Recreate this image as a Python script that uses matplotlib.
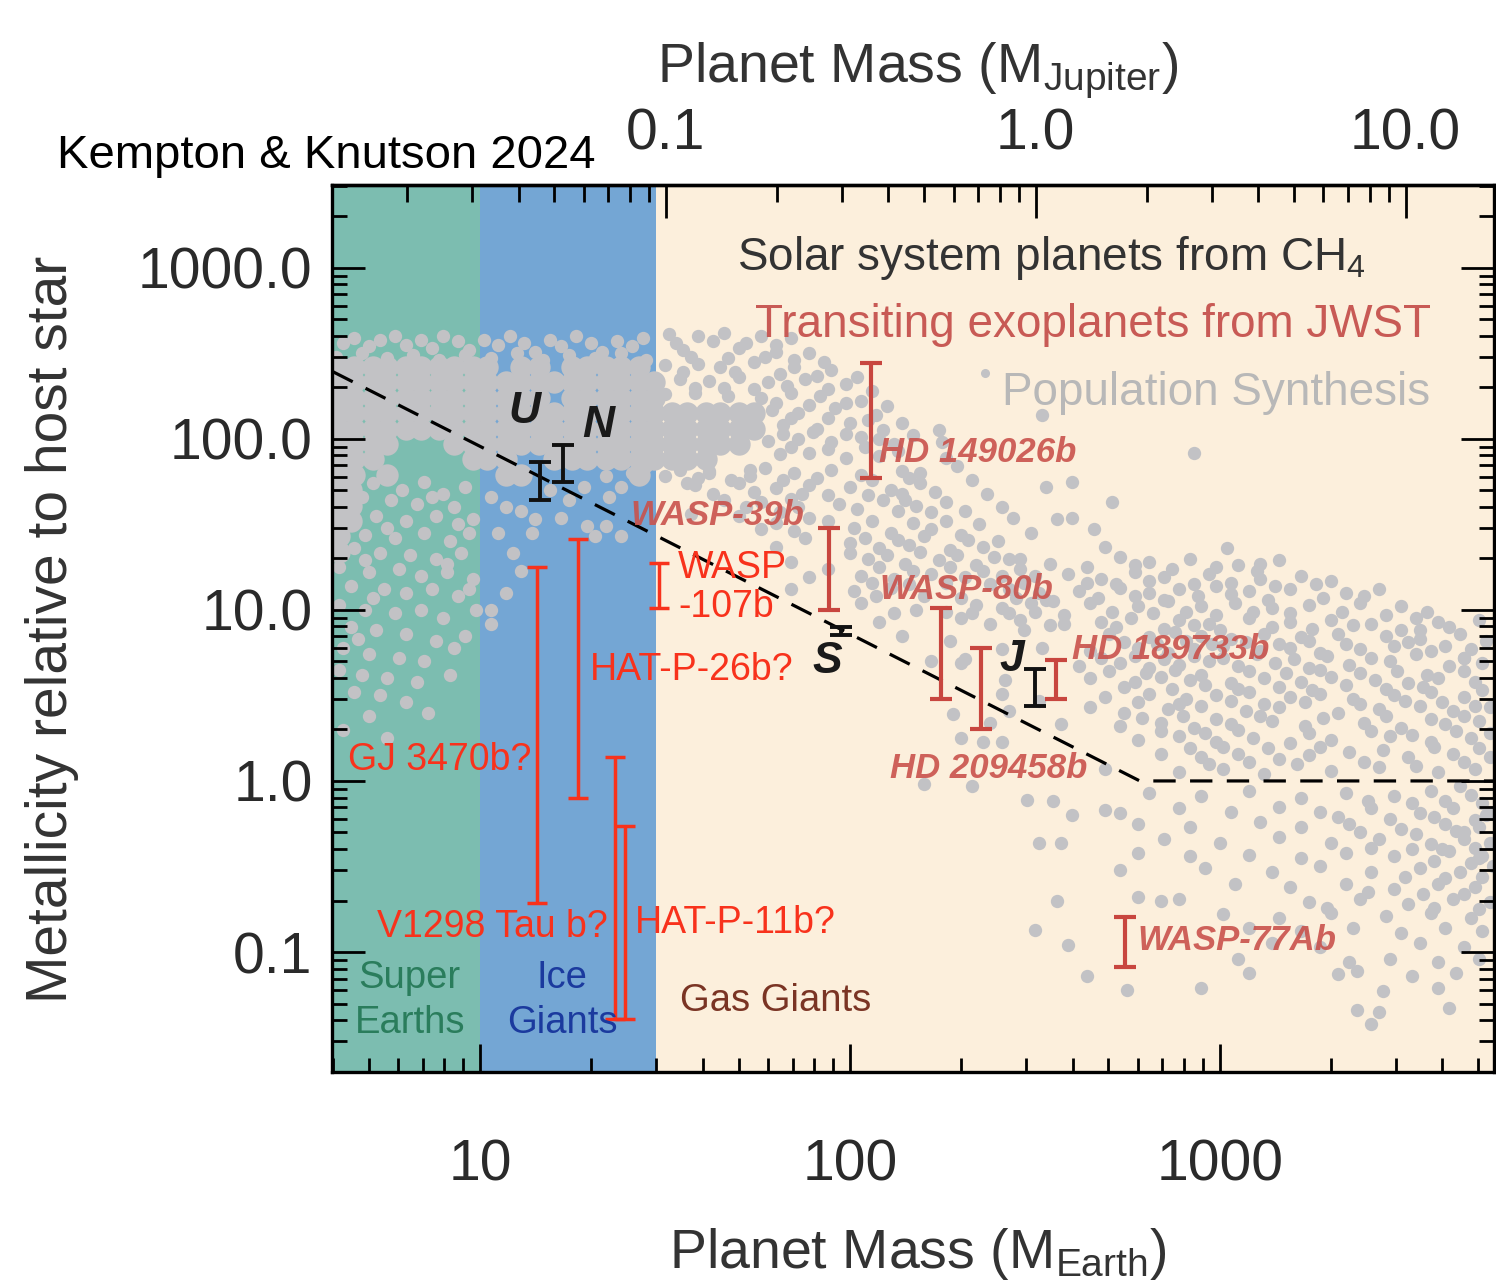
import numpy as np
import matplotlib.pyplot as plt
from matplotlib import font_manager
from matplotlib.ticker import LogLocator, NullFormatter

plt.rcParams['font.family'] = ['Liberation Sans', 'DejaVu Sans']
plt.rcParams['mathtext.default'] = 'regular'

JUPITER_IN_EARTH = 317.8

# composition regimes (Earth masses)
regime_edges = [1.0, 10.0, 30.0, 1e5]
regime_colors = ['#7cbdb0', '#74a6d4', '#fcefdc']

# metallicity trend line
trend_mass = [4.0, 608.0, 5600.0]
trend_met = [247.0, 1.0, 1.0]

# solar system planets from CH4
solar_labels = ['U', 'N', 'S', 'J']
solar_mass = [14.5, 16.8, 94.6, 316.0]
solar_lo = [44.0, 56.0, 7.1, 2.75]
solar_hi = [73.0, 92.0, 7.9, 4.5]

# transiting exoplanets from JWST
jwst_names = ['HD 149026b', 'WASP-39b', 'WASP-80b', 'HD 209458b', 'HD 189733b', 'WASP-77Ab']
jwst_mass = [114.0, 87.7, 176.0, 226.0, 360.0, 553.0]
jwst_lo = [59.0, 10.0, 3.0, 2.0, 3.0, 0.082]
jwst_hi = [278.0, 30.2, 10.3, 6.0, 5.1, 0.160]

# tentative / low-mass JWST results
tent_names = ['GJ 3470b?', 'HAT-P-26b?', 'V1298 Tau b?', 'HAT-P-11b?', 'WASP\n-107b']
tent_mass = [14.3, 18.4, 23.2, 24.7, 30.5]
tent_lo = [0.194, 0.795, 0.0405, 0.0405, 10.3]
tent_hi = [17.8, 26.0, 1.38, 0.546, 18.8]

# population synthesis, read off as (log10 mass, log10 metallicity)
# densely packed core, drawn with medium dots
pop_core_rows = [
    (2.42, [0.62, 0.66, 0.71, 0.75, 0.80, 0.84, 0.89, 0.93, 0.98, 1.02, 1.11, 1.16, 1.25, 1.29,
            1.34, 1.38, 1.43]),
    (2.33, [0.62, 0.66, 0.71, 0.75, 0.80, 0.84, 0.89, 0.93, 0.98, 1.02, 1.07, 1.11, 1.16, 1.20,
            1.25, 1.29, 1.34, 1.38, 1.43, 1.47]),
    (2.24, [0.62, 0.66, 0.71, 0.75, 0.80, 0.84, 0.89, 0.93, 0.98, 1.02, 1.07, 1.11, 1.16, 1.25,
            1.29, 1.34, 1.38, 1.43, 1.47]),
    (2.15, [0.62, 0.66, 0.71, 0.75, 0.80, 0.84, 0.89, 0.93, 0.98, 1.02, 1.07, 1.11, 1.16, 1.20,
            1.25, 1.29, 1.34, 1.38, 1.43, 1.47, 1.52, 1.56, 1.61, 1.65, 1.70, 1.74]),
    (2.06, [0.62, 0.66, 0.71, 0.75, 0.80, 0.84, 0.89, 0.93, 0.98, 1.02, 1.07, 1.11, 1.16, 1.20,
            1.25, 1.29, 1.34, 1.38, 1.43, 1.47, 1.52, 1.56, 1.61, 1.65, 1.70, 1.74]),
    (1.97, [0.62, 0.66, 0.71, 0.75, 0.93, 0.98, 1.02, 1.07, 1.11, 1.16, 1.20, 1.25, 1.29, 1.34,
            1.38, 1.43, 1.47, 1.52, 1.56, 1.61, 1.65, 1.70]),
    (1.88, [0.62, 0.66, 0.71, 0.98, 1.02, 1.07, 1.20, 1.25, 1.29, 1.34, 1.38, 1.43, 1.47, 1.52,
            1.56, 1.61]),
    (1.79, [0.62, 0.66, 0.75, 1.07, 1.11, 1.43]),
    (1.70, [0.62, 0.65]),
    (1.61, [0.62, 0.65]),
    (1.52, [0.62, 0.65]),
    (1.43, [0.62]),
    (1.34, [0.62]),
]

pop_top = [(0.63, 2.56), (0.66, 2.59), (0.70, 2.54), (0.73, 2.58), (0.77, 2.60), (0.80, 2.55),
           (0.84, 2.58), (0.87, 2.53), (0.90, 2.60), (0.94, 2.57), (0.97, 2.52), (1.01, 2.58),
           (1.05, 2.55), (1.08, 2.60), (1.12, 2.56), (1.15, 2.51), (1.19, 2.58), (1.22, 2.54),
           (1.26, 2.60), (1.30, 2.56), (1.33, 2.51), (1.37, 2.57), (1.41, 2.54), (1.44, 2.59),
           (0.61, 2.48), (0.68, 2.50), (0.75, 2.47), (0.82, 2.49), (0.89, 2.46), (0.96, 2.49),
           (1.03, 2.47), (1.10, 2.50), (1.17, 2.46), (1.24, 2.49), (1.31, 2.47), (1.38, 2.50),
           (1.45, 2.46)]

pop_superearth = [(0.64, 1.70), (0.71, 1.74), (0.79, 1.70), (0.85, 1.75), (0.90, 1.68), (0.96, 1.72),
                  (0.76, 1.64), (0.83, 1.62), (0.93, 1.60), (0.66, 1.60), (0.72, 1.55), (0.80, 1.52),
                  (0.88, 1.55), (0.98, 1.53), (0.63, 1.48), (0.69, 1.44), (0.77, 1.42), (0.85, 1.45),
                  (0.92, 1.40), (0.97, 1.45), (0.66, 1.36), (0.73, 1.33), (0.81, 1.32), (0.88, 1.30),
                  (0.95, 1.33), (0.62, 1.25), (0.70, 1.22), (0.78, 1.24), (0.84, 1.20), (0.91, 1.22),
                  (0.98, 1.18), (0.65, 1.14), (0.74, 1.12), (0.80, 1.10), (0.87, 1.12), (0.94, 1.08),
                  (0.62, 1.03), (0.69, 1.00), (0.77, 0.98), (0.84, 1.00), (0.90, 0.95), (0.99, 1.00),
                  (0.65, 0.90), (0.72, 0.88), (0.80, 0.86), (0.88, 0.82), (0.96, 0.85), (0.63, 0.78),
                  (0.70, 0.74), (0.78, 0.72), (0.85, 0.70), (0.62, 0.65), (0.68, 0.62), (0.75, 0.60),
                  (0.83, 0.58), (0.92, 0.62), (0.66, 0.52), (0.73, 0.50), (0.80, 0.46), (0.70, 0.38),
                  (0.86, 0.40), (0.63, 0.30), (0.75, 0.25), (0.68, 1.66), (0.87, 1.66), (0.75, 1.48),
                  (0.94, 1.50), (0.69, 1.29), (0.91, 1.27), (0.71, 1.07), (0.97, 1.12), (0.67, 0.83),
                  (0.93, 0.78)]

pop_icegiant = [(1.03, 1.66), (1.07, 1.60), (1.11, 1.58), (1.15, 1.53), (1.22, 1.54), (1.14, 1.45),
                (1.29, 1.49), (1.34, 1.49), (1.38, 1.43), (1.31, 1.43), (1.09, 1.33), (1.11, 1.23),
                (1.05, 1.45), (1.07, 1.10), (1.03, 1.00), (1.03, 0.92), (1.34, 1.78), (1.38, 1.72),
                (1.41, 1.80), (1.45, 1.84), (1.28, 1.72), (1.35, 1.66), (1.50, 1.78), (1.56, 1.74),
                (1.62, 1.80), (1.68, 1.76), (1.73, 1.82), (1.19, 1.70), (1.24, 1.64)]

pop_giant_upper = [(1.51, 2.61), (1.59, 2.60), (1.66, 2.62), (1.76, 2.60), (1.84, 2.59),
                   (1.55, 2.52), (1.70, 2.53), (1.80, 2.51), (1.89, 2.50),
                   (1.50, 2.43), (1.59, 2.44), (1.65, 2.42), (1.74, 2.45), (1.85, 2.42), (1.95, 2.40),
                   (1.54, 2.35), (1.62, 2.34), (1.70, 2.36), (1.78, 2.33), (1.88, 2.35), (1.99, 2.32),
                   (1.50, 2.26), (1.58, 2.27), (1.67, 2.25), (1.76, 2.24), (1.84, 2.27), (1.92, 2.25),
                   (2.03, 2.22), (1.79, 2.17), (1.86, 2.15), (1.96, 2.18), (2.07, 2.14),
                   (1.82, 2.08), (1.91, 2.06), (2.00, 2.09), (2.09, 2.05),
                   (1.78, 1.99), (1.86, 2.00), (1.95, 1.98), (2.03, 2.01), (2.12, 1.97),
                   (1.81, 1.91), (1.89, 1.92), (1.99, 1.89), (2.08, 1.90),
                   (1.54, 1.82), (1.62, 1.81), (1.77, 1.83), (1.85, 1.80), (1.95, 1.82), (2.03, 1.79),
                   (2.14, 1.81), (1.58, 1.73), (1.70, 1.74), (1.80, 1.71), (1.89, 1.73), (2.00, 1.72),
                   (2.11, 1.70), (2.19, 1.74), (1.66, 1.64), (1.76, 1.63), (1.84, 1.65), (1.97, 1.62),
                   (2.09, 1.64), (2.18, 1.61), (2.26, 1.63), (1.57, 1.56), (1.70, 1.55), (1.81, 1.57),
                   (1.89, 1.54), (1.76, 1.47), (1.85, 1.46), (2.01, 1.48), (2.11, 1.45), (2.22, 1.47),
                   (2.30, 1.44), (1.80, 1.37), (2.00, 1.39), (2.08, 1.36), (2.16, 1.38), (2.27, 1.35),
                   (2.36, 1.37), (1.84, 1.28), (2.05, 1.30), (2.15, 1.27), (2.24, 1.29), (2.34, 1.26),
                   (1.89, 1.19), (2.03, 1.20), (2.12, 1.18), (2.22, 1.21), (2.31, 1.19), (2.41, 1.20),
                   (1.84, 1.12), (2.01, 1.11), (2.11, 1.13), (2.43, 1.12), (2.51, 1.10),
                   (2.03, 1.04), (2.34, 1.03), (2.41, 1.01), (2.49, 1.04),
                   (2.08, 0.93), (2.30, 0.95), (2.38, 0.92), (2.46, 0.94), (2.54, 0.91),
                   (1.53, 2.56), (1.63, 2.57), (1.72, 2.56), (1.80, 2.55),
                   (1.57, 2.48), (1.67, 2.47), (1.77, 2.48), (1.85, 2.46), (1.93, 2.45),
                   (1.55, 2.39), (1.69, 2.39), (1.81, 2.38), (1.91, 2.37), (2.02, 2.36),
                   (1.58, 2.30), (1.66, 2.30), (1.74, 2.29), (1.83, 2.31), (1.94, 2.29), (2.06, 2.28),
                   (1.80, 2.21), (1.89, 2.20), (1.99, 2.21), (2.10, 2.19),
                   (1.84, 2.12), (1.94, 2.12), (2.05, 2.11), (2.14, 2.09),
                   (1.82, 2.03), (1.90, 2.04), (1.99, 2.03), (2.08, 2.00), (2.17, 2.02),
                   (1.84, 1.95), (1.94, 1.94), (2.04, 1.95), (2.13, 1.93),
                   (1.59, 1.77), (1.73, 1.78), (1.82, 1.76), (1.91, 1.77), (2.06, 1.76), (2.16, 1.77),
                   (1.63, 1.68), (1.74, 1.69), (1.87, 1.68), (1.94, 1.67), (2.05, 1.67), (2.14, 1.68),
                   (2.23, 1.69), (1.72, 1.60), (1.86, 1.60), (2.02, 1.59), (2.13, 1.58), (2.22, 1.57),
                   (2.31, 1.58), (1.80, 1.51), (1.94, 1.52), (2.06, 1.52), (2.17, 1.51), (2.26, 1.52),
                   (2.35, 1.50), (1.88, 1.42), (2.04, 1.42), (2.13, 1.41), (2.20, 1.43), (2.32, 1.41),
                   (2.40, 1.40), (2.00, 1.33), (2.10, 1.32), (2.19, 1.34), (2.29, 1.32), (2.39, 1.31),
                   (1.94, 1.24), (2.08, 1.25), (2.17, 1.23), (2.27, 1.25), (2.36, 1.23), (2.46, 1.24),
                   (2.06, 1.16), (2.16, 1.15), (2.26, 1.16), (2.38, 1.15), (2.47, 1.16),
                   (2.07, 1.08), (2.20, 1.08), (2.30, 1.07), (2.45, 1.07), (2.53, 1.06),
                   (2.12, 0.98), (2.26, 0.99), (2.43, 0.98), (2.50, 0.99), (2.58, 0.97)]

pop_giant_mid = [(2.43, 1.30), (2.54, 1.27), (2.73, 1.31), (2.81, 1.28), (2.92, 1.30), (3.05, 1.26),
                 (3.16, 1.29), (2.59, 1.21), (2.68, 1.18), (2.77, 1.22), (2.85, 1.19), (2.97, 1.21),
                 (3.11, 1.18), (3.22, 1.20), (3.30, 1.17), (2.62, 1.11), (2.73, 1.13), (2.81, 1.10),
                 (2.89, 1.12), (2.99, 1.14), (3.08, 1.11), (3.19, 1.12), (3.34, 1.10), (3.43, 1.12),
                 (2.65, 1.04), (2.78, 1.02), (2.86, 1.05), (2.95, 1.02), (3.04, 1.04), (3.14, 1.01),
                 (3.24, 1.03), (3.38, 1.04), (3.49, 1.02), (2.68, 0.93), (2.76, 0.95), (2.89, 0.94),
                 (2.97, 0.92), (3.08, 0.95), (3.19, 0.93), (3.30, 0.94), (3.41, 0.92), (3.53, 0.95),
                 (3.59, 0.93), (3.70, 0.94), (2.70, 0.86), (2.81, 0.84), (2.88, 0.87), (2.95, 0.85),
                 (3.03, 0.83), (3.12, 0.86), (3.22, 0.84), (3.32, 0.86), (3.45, 0.85), (3.54, 0.83),
                 (3.65, 0.86), (2.41, 0.77), (2.65, 0.76), (2.78, 0.78), (2.86, 0.75), (2.93, 0.77),
                 (3.01, 0.79), (3.11, 0.76), (3.19, 0.78), (3.27, 0.75), (3.38, 0.77), (3.47, 0.79),
                 (3.57, 0.76), (3.68, 0.77), (2.30, 0.69), (2.62, 0.67), (2.73, 0.69), (2.81, 0.66),
                 (2.89, 0.68), (2.97, 0.70), (3.05, 0.67), (3.15, 0.69), (3.24, 0.66), (3.35, 0.68),
                 (3.46, 0.70), (3.62, 0.67), (3.71, 0.69), (2.65, 0.60), (2.77, 0.58), (2.84, 0.61),
                 (2.92, 0.59), (3.03, 0.57), (3.12, 0.60), (3.22, 0.58), (3.30, 0.61), (3.42, 0.59),
                 (3.51, 0.57), (3.59, 0.60), (3.69, 0.58), (2.41, 0.51), (2.69, 0.49), (2.81, 0.51),
                 (2.91, 0.48), (2.99, 0.50), (3.08, 0.52), (3.19, 0.49), (3.27, 0.51), (3.36, 0.48),
                 (3.47, 0.50), (3.57, 0.52), (3.66, 0.49), (2.43, 0.41), (2.65, 0.43), (2.74, 0.40),
                 (2.86, 0.42), (2.95, 0.44), (3.07, 0.41), (3.16, 0.43), (3.32, 0.40), (3.43, 0.42),
                 (3.54, 0.44), (3.63, 0.41), (3.73, 0.43), (2.38, 0.34), (2.73, 0.32), (2.84, 0.34),
                 (2.93, 0.31), (3.03, 0.33), (3.14, 0.35), (3.23, 0.32), (3.39, 0.34), (3.49, 0.31),
                 (3.61, 0.33), (3.70, 0.35), (2.30, 0.25), (2.41, 0.23), (2.78, 0.24), (2.89, 0.26),
                 (2.99, 0.23), (3.09, 0.25), (3.19, 0.22), (3.30, 0.24), (3.46, 0.26), (3.57, 0.23),
                 (3.68, 0.25), (2.84, 0.16), (2.95, 0.14), (3.05, 0.16), (3.16, 0.13), (3.24, 0.15),
                 (3.35, 0.17), (3.51, 0.14), (3.63, 0.16), (3.73, 0.14), (2.69, 0.07), (2.89, 0.05),
                 (3.01, 0.07), (3.12, 0.04), (3.30, 0.06), (3.43, 0.08), (3.59, 0.05), (3.69, 0.07),
                 (2.27, 0.82), (2.31, 0.71), (2.42, 0.59), (2.51, 0.47), (2.57, 0.33), (2.36, 0.23),
                 (2.28, 0.39), (2.18, 1.00), (2.14, 0.85), (2.33, 0.98), (2.22, 0.70), (2.46, 1.30),
                 (2.50, 1.20), (2.55, 1.05), (2.58, 0.92), (2.47, 0.88), (2.52, 0.78),
                 (2.52, 2.14), (2.60, 1.75), (2.53, 1.72), (2.71, 1.63), (2.66, 1.47), (2.69, 1.37),
                 (2.60, 1.54), (2.56, 1.53), (2.49, 1.45), (2.44, 1.54), (2.41, 1.60), (2.37, 1.68),
                 (2.33, 1.76), (2.29, 1.84), (2.26, 1.89), (2.24, 2.05), (2.25, 1.98), (2.19, 1.80),
                 (2.15, 1.64), (2.93, 1.92), (3.02, 1.36), (3.11, 1.27), (3.54, 0.88), (3.66, 0.72),
                 (2.64, 1.25), (2.77, 1.26), (2.87, 1.24), (2.99, 1.25), (3.10, 1.23),
                 (2.64, 1.16), (2.72, 1.15), (2.81, 1.17), (2.93, 1.15), (3.03, 1.16), (3.15, 1.14),
                 (3.26, 1.15), (2.67, 1.07), (2.77, 1.08), (2.85, 1.06), (2.94, 1.08), (3.03, 1.09),
                 (3.13, 1.06), (3.28, 1.07), (3.39, 1.08), (2.71, 0.99), (2.82, 0.98), (2.91, 0.99),
                 (2.99, 0.97), (3.09, 0.99), (3.19, 0.98), (3.33, 0.99), (3.45, 0.97), (3.56, 0.99),
                 (2.72, 0.90), (2.85, 0.89), (2.93, 0.91), (3.00, 0.88), (3.14, 0.90), (3.25, 0.89),
                 (3.36, 0.91), (3.49, 0.88), (3.62, 0.90), (2.74, 0.81), (2.83, 0.80), (2.91, 0.82),
                 (2.98, 0.80), (3.07, 0.81), (3.16, 0.80), (3.24, 0.82), (3.34, 0.80), (3.51, 0.81),
                 (3.61, 0.79), (3.72, 0.82), (2.68, 0.72), (2.77, 0.73), (2.85, 0.71), (2.93, 0.73),
                 (3.01, 0.72), (3.10, 0.74), (3.20, 0.71), (3.29, 0.73), (3.41, 0.72), (3.53, 0.74),
                 (3.66, 0.72), (2.70, 0.64), (2.80, 0.63), (2.88, 0.65), (2.95, 0.62), (3.08, 0.64),
                 (3.18, 0.63), (3.27, 0.65), (3.38, 0.63), (3.48, 0.64), (3.56, 0.62), (3.66, 0.64),
                 (2.74, 0.55), (2.87, 0.54), (2.96, 0.56), (3.05, 0.54), (3.16, 0.55), (3.25, 0.53),
                 (3.34, 0.56), (3.45, 0.54), (3.55, 0.55), (3.71, 0.53), (2.78, 0.46), (2.89, 0.45),
                 (3.03, 0.47), (3.12, 0.45), (3.23, 0.46), (3.38, 0.45), (3.50, 0.47), (3.60, 0.46),
                 (3.69, 0.44), (2.79, 0.37), (2.90, 0.38), (2.99, 0.36), (3.11, 0.38), (3.28, 0.37),
                 (3.45, 0.38), (3.57, 0.36), (3.66, 0.38), (2.84, 0.29), (2.96, 0.28), (3.05, 0.30),
                 (3.24, 0.28), (3.41, 0.29), (3.52, 0.27), (3.64, 0.29), (3.73, 0.28), (2.92, 0.19),
                 (3.01, 0.20), (3.13, 0.19), (3.27, 0.20), (3.44, 0.18), (3.58, 0.20), (3.70, 0.19),
                 (2.97, 0.10), (3.08, 0.11), (3.21, 0.10), (3.39, 0.11), (3.53, 0.09), (3.66, 0.11)]

pop_giant_low = [(2.81, -0.07), (2.95, -0.09), (3.08, -0.06), (3.22, -0.10), (3.34, -0.07), (3.47, -0.09),
                 (3.57, -0.06), (3.68, -0.08), (2.69, -0.17), (2.73, -0.19), (2.89, -0.16), (3.03, -0.18),
                 (3.16, -0.15), (3.27, -0.18), (3.41, -0.16), (3.54, -0.19), (3.63, -0.16), (3.73, -0.18),
                 (2.78, -0.25), (2.92, -0.27), (3.11, -0.24), (3.22, -0.27), (3.35, -0.25), (3.49, -0.28),
                 (3.61, -0.25), (3.70, -0.27), (2.51, -0.36), (2.57, -0.36), (2.85, -0.34), (3.00, -0.36),
                 (3.16, -0.33), (3.30, -0.36), (3.43, -0.34), (3.57, -0.37), (3.66, -0.34), (3.73, -0.36),
                 (2.78, -0.42), (2.92, -0.44), (3.08, -0.43), (3.22, -0.45), (3.34, -0.42), (3.47, -0.44),
                 (3.62, -0.41), (3.71, -0.44), (2.73, -0.52), (2.96, -0.51), (3.14, -0.53), (3.27, -0.50),
                 (3.41, -0.53), (3.54, -0.51), (3.65, -0.53), (3.74, -0.50), (3.04, -0.60), (3.19, -0.62),
                 (3.34, -0.60), (3.47, -0.63), (3.59, -0.60), (3.69, -0.62), (2.56, -0.70), (2.78, -0.68),
                 (2.84, -0.70), (2.89, -0.69), (3.24, -0.71), (3.38, -0.69), (3.51, -0.72), (3.63, -0.69),
                 (3.73, -0.71), (3.01, -0.78), (3.16, -0.80), (3.30, -0.77), (3.45, -0.79), (3.57, -0.77),
                 (3.68, -0.80), (2.50, -0.87), (3.08, -0.86), (3.22, -0.88), (3.36, -0.86), (3.49, -0.89),
                 (3.61, -0.86), (3.71, -0.88), (2.59, -0.96), (3.14, -0.95), (3.27, -0.97), (3.54, -0.95),
                 (3.66, -0.97), (3.05, -1.04), (3.35, -1.06), (3.46, -1.04), (3.59, -1.06), (3.70, -1.04),
                 (2.64, -1.14), (3.08, -1.12), (3.32, -1.13), (3.37, -1.11), (3.52, -1.14), (3.64, -1.12),
                 (2.75, -1.22), (2.95, -1.21), (3.44, -1.23), (3.59, -1.21), (3.37, -1.34), (3.43, -1.35),
                 (3.62, -1.33), (3.41, -1.42), (3.65, -0.03), (3.72, -0.20), (3.70, -0.45), (3.66, -0.30),
                 (2.20, -0.02), (2.33, -0.03), (2.48, -0.11), (2.55, -0.12), (2.60, -0.20),
                 (3.40, -0.12), (3.52, -0.13), (3.61, -0.12), (3.71, -0.13), (3.32, -0.21), (3.46, -0.22),
                 (3.58, -0.21), (3.69, -0.23), (3.38, -0.30), (3.53, -0.31), (3.64, -0.29), (3.41, -0.39),
                 (3.52, -0.40), (3.60, -0.40), (3.69, -0.39), (3.58, -0.47), (3.68, -0.48), (3.50, -0.56),
                 (3.61, -0.57), (3.71, -0.56), (3.40, -0.65), (3.55, -0.66), (3.66, -0.66), (3.29, -0.74),
                 (3.58, -0.74), (3.70, -0.75)]

DOT = '#c2c2c5'
JWST_RED = '#c8463f'
TENT_RED = '#f8321c'

installed = {f.name for f in font_manager.fontManager.ttflist}
if 'Liberation Sans Narrow' in installed:
    credit_family, credit_size = 'Liberation Sans Narrow', 41
else:
    credit_family, credit_size = 'Liberation Sans', 34

fig = plt.figure(figsize=(14.96, 12.85), dpi=100)
ax = fig.add_axes([0.2219, 0.1658, 0.7767, 0.6903])
ax.set_xscale('log')
ax.set_yscale('log')
ax.set_xlim(3.98, 5510)
ax.set_ylim(0.0199, 3050)

for lo, hi, c in zip(regime_edges[:-1], regime_edges[1:], regime_colors):
    ax.axvspan(lo, hi, color=c, lw=0, zorder=0)

# population synthesis cloud
core_m = [m for z, ms in pop_core_rows for m in ms]
core_z = [z for z, ms in pop_core_rows for m in ms]
ax.scatter(10 ** np.array(core_m), 10 ** np.array(core_z), s=260, color=DOT, lw=0, zorder=1)
small = pop_top + pop_superearth + pop_icegiant + pop_giant_upper + pop_giant_mid + pop_giant_low
sm, sz = zip(*small)
ax.scatter(10 ** np.array(sm), 10 ** np.array(sz), s=92, color=DOT, lw=0, zorder=1)

ax.plot(trend_mass, trend_met, color='black', lw=2.3, ls=(0, (7, 4.5)), zorder=2)


def bars(mass, lo, hi, color, lw, cap):
    lo = np.array(lo)
    hi = np.array(hi)
    ax.errorbar(mass, lo, yerr=[np.zeros_like(lo), hi - lo], fmt='none', ecolor=color,
                elinewidth=lw, capsize=cap, capthick=lw, zorder=4)


bars(tent_mass, tent_lo, tent_hi, TENT_RED, 2.5, 7.5)
bars(jwst_mass, jwst_lo, jwst_hi, JWST_RED, 3.0, 8)
bars(solar_mass, solar_lo, solar_hi, '#111111', 2.8, 8)

# planet labels
lab = dict(fontsize=25, fontweight='bold', style='italic', color='#c9524c', alpha=0.9,
           va='center', zorder=5)
ax.text(120, 83, jwst_names[0], ha='left', **lab)
ax.text(75.5, 35.5, jwst_names[1], ha='right', **lab)
ax.text(120, 13.1, jwst_names[2], ha='left', **lab)
ax.text(128, 1.19, jwst_names[3], ha='left', **lab)
ax.text(398, 5.84, jwst_names[4], ha='left', **lab)
ax.text(600, 0.117, jwst_names[5], ha='left', **lab)

tl = dict(fontsize=27, color=TENT_RED, va='center', zorder=5)
ax.text(13.8, 1.33, tent_names[0], ha='right', **tl)
ax.text(19.8, 4.46, tent_names[1], ha='left', **tl)
ax.text(22.2, 0.14, tent_names[2], ha='right', **tl)
ax.text(26.2, 0.148, tent_names[3], ha='left', **tl)
ax.text(34.3, 13.5, tent_names[4], ha='left', linespacing=1.1, **tl)

sl = dict(fontsize=32, fontweight='bold', style='italic', color='#1a1a1a', ha='center',
          va='center', zorder=5)
ax.text(13.2, 145, solar_labels[0], **sl)
ax.text(20.9, 119, solar_labels[1], **sl)
ax.text(87, 4.97, solar_labels[2], **sl)
ax.text(274, 5.1, solar_labels[3], **sl)

# regime names
ax.text(6.46, 0.052, 'Super\nEarths', fontsize=27.5, color='#2a7d5c', ha='center', va='center',
        linespacing=1.3, zorder=5)
ax.text(16.7, 0.052, 'Ice\nGiants', fontsize=27.5, color='#1b3a9e', ha='center', va='center',
        linespacing=1.3, zorder=5)
ax.text(63, 0.052, 'Gas Giants', fontsize=27.5, color='#7a3424', ha='center', va='center', zorder=5)

# key
ax.text(0.349, 0.904, 'Solar system planets from CH$_4$', transform=ax.transAxes, fontsize=33,
        color='#333333', ha='left', va='baseline', zorder=5)
ax.text(0.364, 0.829, 'Transiting exoplanets from JWST', transform=ax.transAxes, fontsize=33,
        color='#c85a55', ha='left', va='baseline', zorder=5)
ax.text(0.577, 0.752, 'Population Synthesis', transform=ax.transAxes, fontsize=33,
        color='#b8b8b8', ha='left', va='baseline', zorder=5)
ax.plot([0.562], [0.788], 'o', ms=5.5, color=DOT, transform=ax.transAxes, zorder=5)

# axes styling
for sp in ax.spines.values():
    sp.set_linewidth(2.4)
ax.set_yticks([0.1, 1, 10, 100, 1000])
ax.set_yticklabels(['0.1', '1.0', '10.0', '100.0', '1000.0'])
ax.set_xticks([10, 100, 1000])
ax.set_xticklabels(['10', '100', '1000'])
ax.xaxis.set_minor_locator(LogLocator(base=10, subs=np.arange(2, 10) * 1.0, numticks=20))
ax.yaxis.set_minor_locator(LogLocator(base=10, subs=np.arange(2, 10) * 1.0, numticks=20))
ax.xaxis.set_minor_formatter(NullFormatter())
ax.yaxis.set_minor_formatter(NullFormatter())
ax.tick_params(axis='y', which='major', direction='in', length=24, width=2, left=True, right=True,
               labelsize=41, labelcolor='#2a2a2a', pad=14)
ax.tick_params(axis='y', which='minor', direction='in', length=11, width=2, left=True, right=True)
ax.tick_params(axis='x', which='major', direction='in', length=20, width=2, top=False,
               labelsize=41, labelcolor='#2a2a2a', pad=48)
ax.tick_params(axis='x', which='minor', direction='in', length=10, width=2, top=False)

sec = ax.secondary_xaxis('top', functions=(lambda m: m / JUPITER_IN_EARTH,
                                            lambda j: j * JUPITER_IN_EARTH))
sec.set_xticks([0.1, 1, 10])
sec.set_xticklabels(['0.1', '1.0', '10.0'])
sec.xaxis.set_minor_locator(LogLocator(base=10, subs=np.arange(2, 10) * 1.0, numticks=20))
sec.xaxis.set_minor_formatter(NullFormatter())
sec.tick_params(which='major', direction='in', length=24, width=2, labelsize=41,
                labelcolor='#2a2a2a', pad=17)
sec.tick_params(which='minor', direction='in', length=12, width=2)
sec.spines['top'].set_linewidth(2.4)

fig.text(0.6136, 0.936, 'Planet Mass (M$_{Jupiter}$)', fontsize=40, color='#333333',
         ha='center', va='baseline')
fig.text(0.6136, 0.0132, 'Planet Mass (M$_{Earth}$)', fontsize=40, color='#333333',
         ha='center', va='baseline')
fig.text(0.0348, 0.5105, 'Metallicity relative to host star', fontsize=41, color='#333333',
         rotation=90, ha='center', va='center')
fig.text(0.038, 0.869, 'Kempton & Knutson 2024', fontsize=credit_size, color='black',
         family=[credit_family, 'DejaVu Sans'], ha='left', va='baseline')

fig.savefig('out.png', dpi=100)
